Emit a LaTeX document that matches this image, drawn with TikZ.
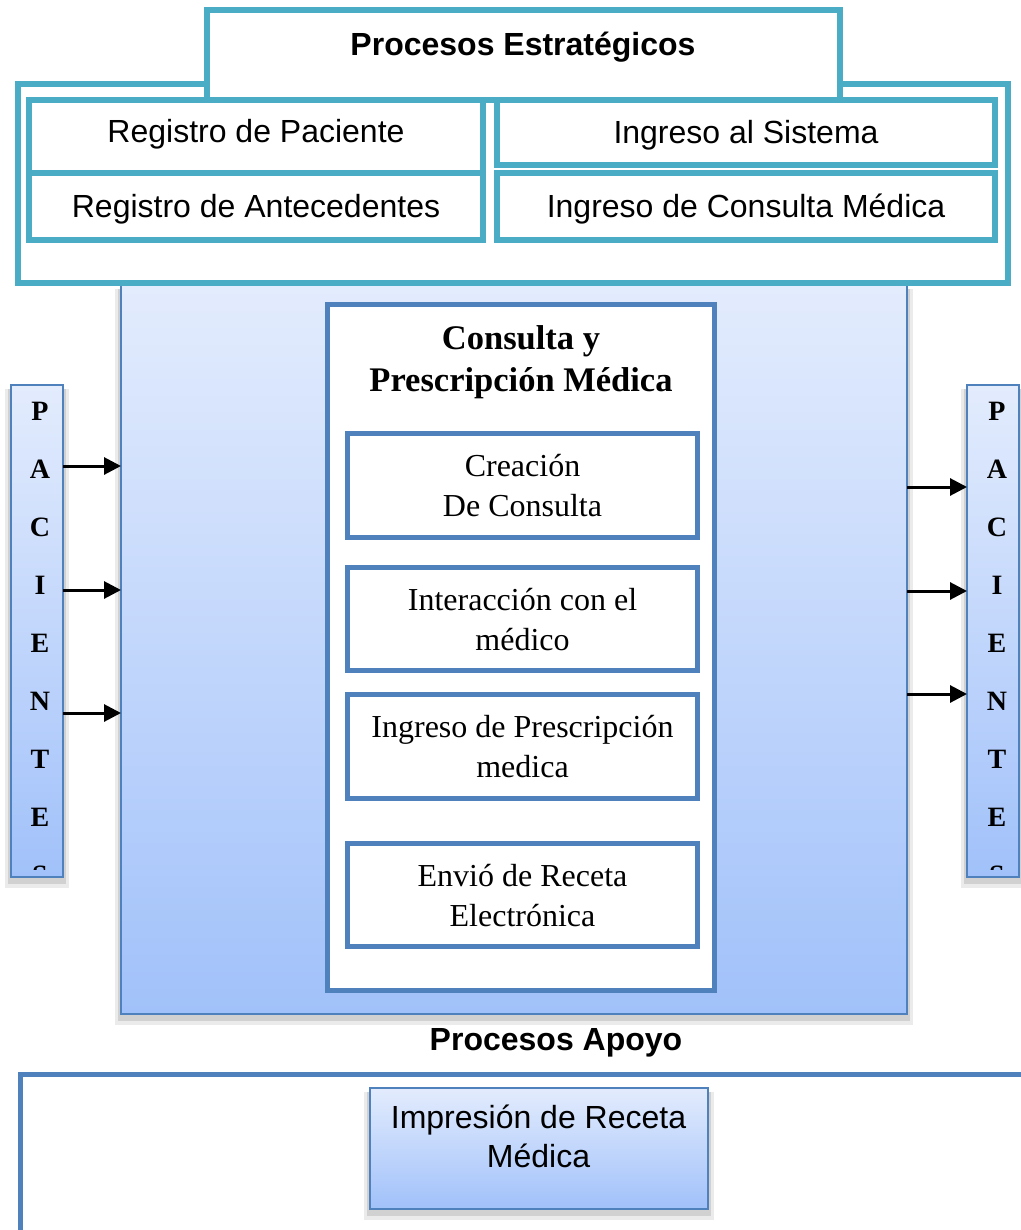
\documentclass[tikz,border=0pt]{standalone}
\usepackage{fontspec}
\setmainfont{Liberation Serif}
\newfontfamily\arialf{Liberation Sans}
\usetikzlibrary{arrows.meta,backgrounds}
\definecolor{tealc}{RGB}{75,172,198}
\definecolor{bordc}{RGB}{79,129,189}
\definecolor{gradtop}{RGB}{227,236,253}
\definecolor{gradbot}{RGB}{161,193,250}
\newcommand\shiftline[2]{\raisebox{#1}[26.6pt][11.4pt]{#2}}
\newcommand\subtopstrut{\rule{0pt}{35pt}}
\newcommand\titletopstrut{\rule{0pt}{32.4pt}}
\begin{document}
\begin{tikzpicture}[x=1pt,y=-1pt,
  every node/.style={inner sep=0pt, outer sep=0pt},
  tealbox/.style={rectangle, draw=tealc, line width=6pt, fill=white, align=center,
     font=\arialf\fontsize{32}{38}\selectfont},
  gradbox/.style={rectangle, draw=bordc, line width=2pt, top color=gradtop, bottom color=gradbot},
  whitebox/.style={rectangle, draw=bordc, line width=5pt, fill=white},
  subbox/.style={whitebox, align=center, minimum width=350pt, font=\fontsize{32}{40}\selectfont},
  shadowdark/.style={fill=black!18},
  shadowlight/.style={fill=black!8},
  arr/.style={line width=3pt, -{Triangle[length=17pt,width=17pt]}},
  letters/.style={align=center, font=\bfseries\fontsize{28}{58}\selectfont},
  boldsans/.style={font=\arialf\bfseries\fontsize{32}{38}\selectfont},
]
\useasboundingbox (0,0) rectangle (1020,1230);

% central process block
\node[gradbox, minimum width=786pt, minimum height=729pt] (main) at (514,649.5) {};

% strategic processes
\node[tealbox, minimum width=990pt, minimum height=199pt] (estr) at (513,183.5) {};
\node[tealbox, minimum width=633pt, minimum height=90pt] (tab) at (523.5,55) {};
\node[boldsans, anchor=base] (tabtxt) at (523,55.5) {Procesos Estratégicos};
\node[tealbox, minimum width=454pt, minimum height=73pt] (rp) at (256,136.5) {\shiftline{2pt}{Registro de Paciente}};
\node[tealbox, minimum width=454pt, minimum height=67pt] (ra) at (256,206.5) {\shiftline{-3pt}{Registro de Antecedentes}};
\node[tealbox, minimum width=498pt, minimum height=65.5pt] (is) at (746,132.75) {\shiftline{-3pt}{Ingreso al Sistema}};
\node[tealbox, minimum width=498pt, minimum height=66.5pt] (ic) at (746,206.75) {\shiftline{-3pt}{Ingreso de Consulta Médica}};

% consulta y prescripcion
\node[whitebox, minimum width=387pt, minimum height=686pt] (cpm) at (521,647) {};
\node[align=center, font=\bfseries\fontsize{34.5}{42}\selectfont] (cpmt) at (521,360.6)
  {\titletopstrut Consulta y\\Prescripción Médica\strut};
\node[subbox, minimum height=104pt] (s1) at (522.5,485) {\subtopstrut Creación\\De Consulta\strut};
\node[subbox, minimum height=103pt] (s2) at (522.5,618.5) {\subtopstrut Interacción con el\\médico\strut};
\node[subbox, minimum height=104pt] (s3) at (522.5,746) {\subtopstrut Ingreso de Prescripción\\medica\strut};
\node[subbox, minimum height=103pt] (s4) at (522.5,894.5) {\subtopstrut Envió de Receta\\Electrónica\strut};

% paciente bars
\node[gradbox, minimum width=52pt, minimum height=492pt] (pl) at (37,631) {};
\node[gradbox, minimum width=52pt, minimum height=492pt] (pr) at (993,631) {};
\begin{scope}
  \clip (pl.north west) rectangle ([yshift=8pt]pl.south east);
  \node[letters] (plt) at (40,640.4) {\strut P\\A\\C\\I\\E\\N\\T\\E\\S\strut};
\end{scope}
\begin{scope}
  \clip (pr.north west) rectangle ([yshift=8pt]pr.south east);
  \node[letters] (prt) at (997,640.4) {\strut P\\A\\C\\I\\E\\N\\T\\E\\S\strut};
\end{scope}

% arrows
\draw[arr] (pl.east |- 0,466) -- (main.west |- 0,466);
\draw[arr] (pl.east |- 0,590) -- (main.west |- 0,590);
\draw[arr] (pl.east |- 0,713) -- (main.west |- 0,713);
\draw[arr] (main.east |- 0,487) -- (pr.west |- 0,487);
\draw[arr] (main.east |- 0,591) -- (pr.west |- 0,591);
\draw[arr] (main.east |- 0,694) -- (pr.west |- 0,694);

% support processes
\node[boldsans, anchor=base] (apt) at (556,1050.5) {Procesos Apoyo};
\node[rectangle, draw=bordc, line width=5pt, minimum width=1030pt, minimum height=200pt,
      anchor=north west] (apoyo) at (20,1074.5) {};
\node[gradbox, minimum width=338pt, minimum height=121pt] (imp) at (538.5,1148) {};
\node[align=center, font=\arialf\fontsize{32}{39}\selectfont] (impt) at (538.5,1139.7)
  {\strut Impresión de Receta\\Médica\strut};

% shadows
\begin{scope}[on background layer]
  \foreach \n in {main,pl,pr,imp}{
    \fill[shadowlight] ([xshift=-6pt,yshift=-11pt]\n.south west) rectangle ([xshift=6pt,yshift=-4pt]\n.north east);
    \fill[shadowdark] ([xshift=-3pt,yshift=-7pt]\n.south west) rectangle ([xshift=3pt,yshift=-4pt]\n.north east);
  }
\end{scope}
\end{tikzpicture}
\end{document}
